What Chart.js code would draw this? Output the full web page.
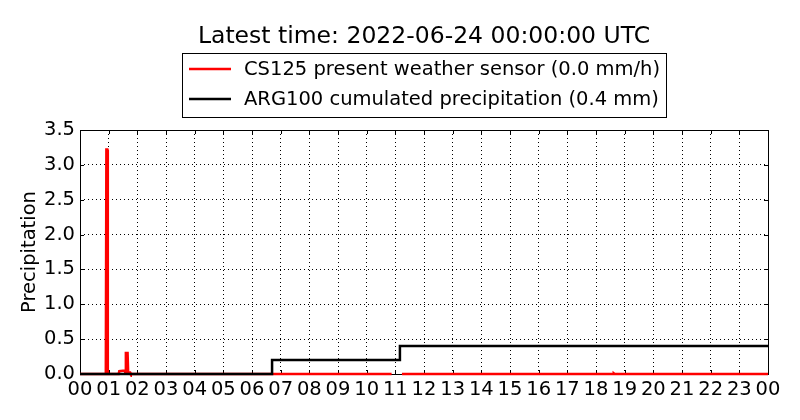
<!DOCTYPE html>
<html>
<head>
<meta charset="utf-8">
<script src="https://cdn.jsdelivr.net/npm/chart.js@4/dist/chart.umd.min.js"></script>
<style>
  html, body { margin: 0; padding: 0; background: #fff; }
  #wrap { width: 800px; height: 420px; }
</style>
</head>
<body>
<div id="wrap"><canvas id="myChart" width="800" height="420"></canvas></div>
<script>
const titleText = 'Latest time: 2022-06-24 00:00:00 UTC';
const seriesNames = ['CS125 present weather sensor (0.0 mm/h)', 'ARG100 cumulated precipitation (0.4 mm)'];
const hourLabels = ['00','01','02','03','04','05','06','07','08','09','10','11','12',
                    '13','14','15','16','17','18','19','20','21','22','23','00'];
const yTicks = [0, 0.5, 1.0, 1.5, 2.0, 2.5, 3.0, 3.5];

// CS125 present weather sensor (mm/h), time in hours since 00 UTC, null = missing
const csTimes  = [0, 0.90, 0.92, 0.95, 0.97, 1.35, 1.37, 1.55, 1.58, 1.60, 1.66, 1.68, 1.75, 1.77, 10.87, 10.90, 11.23, 18.60, 18.62, 18.65, 24];
const csValues = [0, 0,    3.22, 3.22, 0,    0,    0.04, 0.05, 0.02, 0.30, 0.30, 0.02, 0.02, 0,    0,     null,  0,     0,     0.01,  0,     0];

// ARG100 cumulated precipitation (mm), stepped
const argTimes  = [0, 6.70, 11.16, 24];
const argValues = [0, 0.2,  0.4,   0.4];

const font = '"DejaVu Sans", sans-serif';

const frame = {
  id: 'frame',
  beforeDatasetsDraw(chart) {
    const ctx = chart.ctx;
    const a = chart.chartArea;
    const xs = chart.scales.x, ys = chart.scales.y;
    ctx.save();
    ctx.strokeStyle = '#000';
    ctx.lineWidth = 1;
    // inward ticks
    ctx.beginPath();
    for (let h = 0; h <= 24; h++) {
      const px = Math.round(xs.getPixelForValue(h)) + 0.5;
      ctx.moveTo(px, a.bottom); ctx.lineTo(px, a.bottom - 4);
      ctx.moveTo(px, a.top); ctx.lineTo(px, a.top + 4);
    }
    yTicks.forEach(v => {
      const py = Math.round(ys.getPixelForValue(v)) + 0.5;
      ctx.moveTo(a.left, py); ctx.lineTo(a.left + 4, py);
      ctx.moveTo(a.right, py); ctx.lineTo(a.right - 4, py);
    });
    ctx.stroke();
    // frame
    ctx.strokeRect(Math.round(a.left) + 0.5, Math.round(a.top) + 0.5,
                   Math.round(a.right - a.left), Math.round(a.bottom - a.top));
    ctx.restore();
  },
  afterDraw(chart) {
    const ctx = chart.ctx;
    const a = chart.chartArea;
    ctx.save();
    // title
    ctx.fillStyle = '#000';
    ctx.font = '23.5px ' + font;
    ctx.textAlign = 'center';
    ctx.textBaseline = 'alphabetic';
    ctx.fillText(titleText, (a.left + a.right) / 2, 43);

    // y axis title
    ctx.save();
    ctx.translate(30, (a.top + a.bottom) / 2);
    ctx.rotate(-Math.PI / 2);
    ctx.font = '19.5px ' + font;
    ctx.textBaseline = 'middle';
    ctx.fillText('Precipitation', 0, 0);
    ctx.restore();

    // legend
    ctx.fillStyle = '#fff';
    ctx.fillRect(182.5, 53.5, 484, 64);
    ctx.strokeStyle = '#000';
    ctx.lineWidth = 1;
    ctx.strokeRect(182.5, 53.5, 484, 64);
    const colors = ['#ff0000', '#000000'];
    ctx.font = '19.5px ' + font;
    ctx.textAlign = 'left';
    ctx.textBaseline = 'middle';
    seriesNames.forEach((name, i) => {
      const y = 69 + i * 30;
      ctx.strokeStyle = colors[i];
      ctx.lineWidth = 2.5;
      ctx.beginPath();
      ctx.moveTo(189, y); ctx.lineTo(231, y);
      ctx.stroke();
      ctx.fillStyle = '#000';
      ctx.fillText(name, 244, y + 1);
    });
    ctx.restore();
  }
};

const ctx = document.getElementById('myChart').getContext('2d');
const myChart = new Chart(ctx, {
  type: 'line',
  data: {
    datasets: [{
      label: seriesNames[0],
      data: csTimes.map((t, i) => ({ x: t, y: csValues[i] })),
      borderColor: '#ff0000',
      borderWidth: 2.5,
      pointRadius: 0,
      spanGaps: false,
      clip: 3,
      order: 2
    }, {
      label: seriesNames[1],
      data: argTimes.map((t, i) => ({ x: t, y: argValues[i] })),
      borderColor: '#000000',
      borderWidth: 2.5,
      pointRadius: 0,
      stepped: 'before',
      clip: 3,
      order: 1
    }]
  },
  options: {
    responsive: false,
    animation: false,
    devicePixelRatio: 1,
    layout: {
      padding: { top: 130, right: 32, left: 0, bottom: 0 }
    },
    scales: {
      x: {
        type: 'linear',
        min: 0,
        max: 24,
        afterFit: (scale) => { scale.height = 46; },
        afterBuildTicks: (scale) => {
          scale.ticks = hourLabels.map((l, i) => ({ value: i }));
        },
        ticks: {
          autoSkip: false,
          maxRotation: 0,
          padding: 4,
          color: '#000',
          font: { family: font, size: 19.5 },
          callback: (v, i) => hourLabels[i]
        },
        grid: { color: '#000', lineWidth: 1, drawTicks: false },
        border: { display: false, dash: [1, 3] }
      },
      y: {
        min: 0,
        max: 3.5,
        afterFit: (scale) => { scale.width = 80; },
        afterBuildTicks: (scale) => {
          scale.ticks = yTicks.map(v => ({ value: v }));
        },
        ticks: {
          padding: 5,
          color: '#000',
          font: { family: font, size: 19.5 },
          callback: (v) => v.toFixed(1)
        },
        grid: { color: '#000', lineWidth: 1, drawTicks: false },
        border: { display: false, dash: [1, 3] }
      }
    },
    plugins: {
      legend: { display: false },
      title: { display: false },
      tooltip: { enabled: false }
    }
  },
  plugins: [frame]
});
</script>
</body>
</html>
